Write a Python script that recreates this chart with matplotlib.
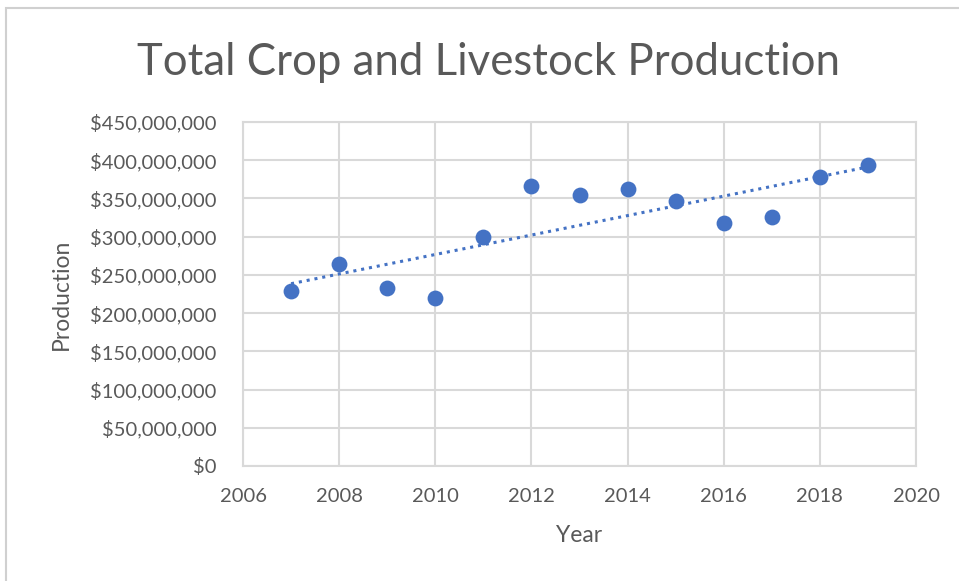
import numpy as np
import matplotlib.pyplot as plt
from matplotlib.ticker import FuncFormatter
from matplotlib.patches import Rectangle

years = [2007, 2008, 2009, 2010, 2011, 2012, 2013, 2014, 2015, 2016, 2017, 2018, 2019]
production = [229e6, 264e6, 233e6, 220e6, 300e6, 366e6, 355e6, 363e6, 347e6, 318e6, 326e6, 378e6, 394e6]

blue = '#4472C4'
grey_text = '#595959'
grid_col = '#d9d9d9'

plt.rcParams['font.family'] = ['Lato', 'DejaVu Sans']

fig = plt.figure(figsize=(9.59, 5.81), dpi=100)
fig.patches.append(Rectangle((0.006, -0.01), 1.2, 0.996, transform=fig.transFigure,
                             fill=False, edgecolor='#d0d0d0', linewidth=1.5))
ax = fig.add_axes([0.2534, 0.198, 0.7018, 0.592])

x = np.array(years)
y = np.array(production)
ax.scatter(x, y, s=130, color=blue, zorder=3, linewidths=0)

# linear trendline
coef = np.polyfit(x, y, 1)
ax.plot(x, np.polyval(coef, x), color=blue, linestyle=(0, (1, 1.6)), linewidth=2.2, zorder=2)

ax.set_xlim(2006, 2020)
ax.set_ylim(0, 450e6)
ax.set_xticks(np.arange(2006, 2021, 2))
ax.set_yticks(np.arange(0, 450e6 + 1, 50e6))
ax.yaxis.set_major_formatter(FuncFormatter(lambda v, p: '${:,.0f}'.format(v)))

ax.grid(True, color=grid_col, linewidth=1.5)
ax.set_axisbelow(True)
for s in ax.spines.values():
    s.set_color(grid_col)
    s.set_linewidth(1.5)
ax.tick_params(length=0, labelsize=14.5, labelcolor=grey_text)
ax.tick_params(axis='y', pad=19)
ax.tick_params(axis='x', pad=16)

ax.set_xlabel('Year', fontsize=16.5, color=grey_text, labelpad=14)
ax.set_ylabel('Production', fontsize=16.5, color=grey_text, labelpad=13)
fig.text(0.509, 0.893, 'Total Crop and Livestock Production', ha='center', va='center',
         fontsize=31.5, color=grey_text)

fig.savefig('out.png', dpi=100, facecolor='w')
